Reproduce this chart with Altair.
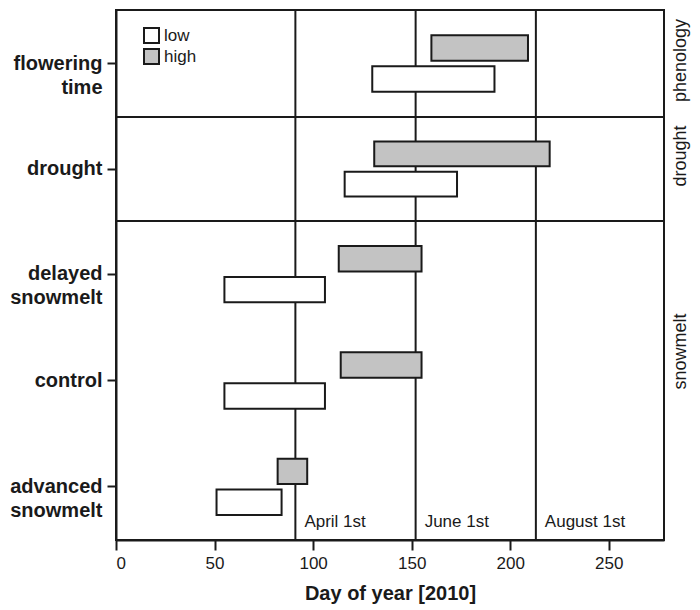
import altair as alt
import pandas as pd

# ---- data ----
rows = ["flowering time", "drought", "delayed snowmelt", "control", "advanced snowmelt"]
row_panel = ["phenology", "drought", "snowmelt", "snowmelt", "snowmelt"]
low_start = [130, 116, 55, 55, 51]
low_end = [192, 173, 106, 106, 84]
high_start = [160, 131, 113, 114, 82]
high_end = [209, 220, 155, 155, 97]

panel_names = ["phenology", "drought", "snowmelt"]
panel_heights = [107, 104, 319]
panel_label_lift = [3, 13, 29]  # label placement above each panel's centre (px)

ref_days = [91, 152, 213]
ref_labels = ["April 1st", "June 1st", "August 1st"]

x_ticks = [0, 50, 100, 150, 200, 250]
x_domain = [0, 278]
levels = ["low", "high"]
level_colors = ["#ffffff", "#c3c3c3"]

FONT = "Liberation Sans"
INK = "#1a1a1a"
W = 548

records = []
for r, p, ls, le, hs, he in zip(rows, row_panel, low_start, low_end, high_start, high_end):
    records.append({"row": r, "panel": p, "level": "low", "start": ls, "end": le})
    records.append({"row": r, "panel": p, "level": "high", "start": hs, "end": he})
df = pd.DataFrame(records)
ref_df = pd.DataFrame({"day": ref_days, "label": ref_labels})

x_scale = alt.Scale(domain=x_domain, nice=False, zero=False)


def panel(name, h, lift, first, last):
    sub = df[df.panel == name]
    order = [r for r in rows if r in set(sub["row"])]
    if last:
        x_axis = alt.Axis(values=x_ticks, title="Day of year [2010]", grid=False,
                          labelFontSize=17, labelFont=FONT, labelColor=INK,
                          tickSize=10, tickWidth=2, tickColor=INK,
                          domainWidth=2, domainColor=INK, labelPadding=5,
                          titleFont=FONT, titleFontSize=20, titleFontWeight="bold",
                          titleColor=INK, titlePadding=12)
    else:
        x_axis = None
    legend = (alt.Legend(title=None, orient="none", legendX=27, legendY=17,
                         symbolType="square", symbolSize=225, symbolStrokeColor=INK,
                         symbolStrokeWidth=2, symbolOpacity=1, labelFontSize=17,
                         labelFont=FONT, labelColor=INK, labelOffset=4, rowPadding=-2,
                         padding=0)
              if first else None)

    rules = alt.Chart(ref_df).mark_rule(color=INK, strokeWidth=2).encode(
        x=alt.X("day:Q", scale=x_scale, axis=x_axis)
    )
    bars = alt.Chart(sub).mark_bar(stroke=INK, strokeWidth=2, opacity=1).encode(
        x=alt.X("start:Q", scale=x_scale, axis=x_axis),
        x2="end:Q",
        y=alt.Y("row:N", sort=order,
                scale=alt.Scale(paddingInner=0.47, paddingOuter=0.235),
                axis=alt.Axis(title=None, labelExpr="split(datum.label, ' ')",
                              labelFont=FONT, labelFontSize=20, labelFontWeight="bold",
                              labelColor=INK, labelLineHeight=24, labelPadding=5,
                              tickSize=9, tickWidth=2, tickColor=INK,
                              domainWidth=2, domainColor=INK, grid=False)),
        yOffset=alt.YOffset("level:N", sort=["high", "low"],
                            scale=alt.Scale(domain=["high", "low"], paddingInner=0.18,
                                            paddingOuter=0)),
        fill=alt.Fill("level:N", scale=alt.Scale(domain=levels, range=level_colors),
                      legend=legend),
    )
    side = alt.Chart(pd.DataFrame({"panel": [name]})).mark_text(
        angle=270, align="center", baseline="top", fontSize=18, font=FONT, color=INK
    ).encode(x=alt.value(W + 8), y=alt.value(h / 2 - lift), text="panel:N")
    layers = [rules, bars, side]
    if last:
        txt = alt.Chart(ref_df).mark_text(align="left", baseline="alphabetic", dx=9,
                                          fontSize=17, font=FONT, color=INK).encode(
            x=alt.X("day:Q", scale=x_scale, axis=x_axis),
            y=alt.value(h - 13),
            text="label:N",
        )
        layers.append(txt)
    return alt.layer(*layers).properties(width=W, height=h)


n_panels = len(panel_names)
charts = [panel(n, h, lift, i == 0, i == n_panels - 1)
          for i, (n, h, lift) in enumerate(zip(panel_names, panel_heights, panel_label_lift))]

chart = alt.vconcat(*charts, spacing=0, bounds="flush").resolve_scale(
    y="independent", fill="independent", yOffset="independent"
).resolve_legend(fill="independent").properties(
    padding={"left": 0, "top": 0, "right": 0, "bottom": 0}
).configure(background="white").configure_view(stroke=INK, strokeWidth=2)

chart.save("out.html", embed_options={"renderer": "svg", "actions": False})
